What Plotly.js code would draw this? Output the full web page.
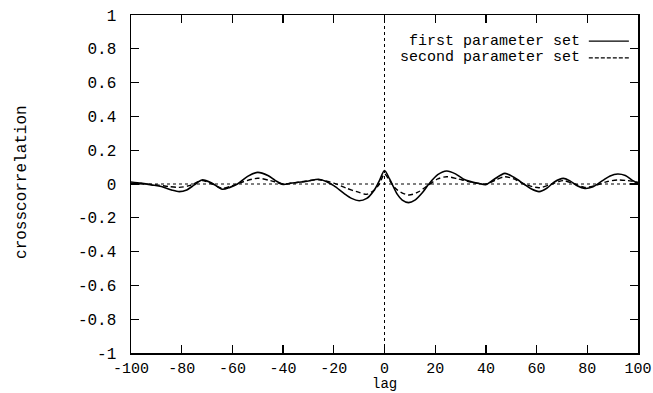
<!DOCTYPE html>
<html>
<head>
<meta charset="utf-8">
<script src="https://cdn.plot.ly/plotly-3.0.1.min.js"></script>
<style>html,body{margin:0;padding:0;background:#fff;}#chart{width:653px;height:393px;}</style>
</head>
<body>
<div id="chart"></div>
<script>
// Lag values and crosscorrelation estimates
const lagFirst = [-100,-96,-92,-88,-84,-81,-78,-75,-72,-68,-64,-61,-58,-54,-50,-46,-43,-40,-37,-34,-30,-26,-23,-20,-16,-13,-10,-7,-4,-2,0,2,5,7,9.5,12,15,17.5,21,24.5,28,31,34,37,40,43,47.5,51,55,58,61,64,67,70.5,73,76,79,82,86,89,92,95,98,100];
const valFirst = [0.012,0.005,-0.005,-0.015,-0.035,-0.045,-0.035,-0.005,0.024,0.005,-0.031,-0.02,0.0,0.045,0.069,0.05,0.02,-0.002,0.005,0.01,0.018,0.028,0.015,-0.01,-0.055,-0.085,-0.099,-0.085,-0.035,0.02,0.08,0.03,-0.06,-0.095,-0.11,-0.095,-0.05,0.0,0.055,0.077,0.06,0.03,0.014,0.004,-0.004,0.025,0.063,0.04,0.0,-0.03,-0.045,-0.025,0.012,0.033,0.02,-0.01,-0.026,-0.018,0.02,0.048,0.059,0.05,0.02,0.003];

const lagSecond = [-100,-95,-90,-85,-81,-77,-72,-68,-64,-60,-56,-50,-45,-40,-34,-26,-20,-15,-10,-7,-4,-2,0,2,5,9.5,13,17,21,24.5,29,33,40,44,47.5,51,55,61,66,70.5,75,79,84,88,92,96,100];
const valSecond = [0.005,0.0,-0.005,-0.015,-0.02,-0.01,0.02,0.0,-0.025,-0.01,0.012,0.034,0.02,0.0,0.01,0.025,0.005,-0.025,-0.05,-0.061,-0.035,0.0,0.06,0.02,-0.035,-0.065,-0.05,-0.01,0.03,0.043,0.03,0.015,0.0,0.025,0.043,0.03,0.0,-0.022,0.0,0.02,0.0,-0.02,-0.005,0.015,0.024,0.02,0.01];

const seriesNames = ['first parameter set', 'second parameter set'];

const xTickVals = [-100,-80,-60,-40,-20,0,20,40,60,80,100];
const xTickText = ['-100','-80','-60','-40','-20','0','20','40','60','80','100'];
const yTickVals = [-1,-0.8,-0.6,-0.4,-0.2,0,0.2,0.4,0.6,0.8,1];
const yTickText = ['-1','-0.8','-0.6','-0.4','-0.2','0','0.2','0.4','0.6','0.8','1'];

const FONT = 'Liberation Mono, Courier New, monospace';

const traces = [
  {x: lagFirst, y: valFirst, name: seriesNames[0], mode: 'lines',
   line: {color: '#000', width: 1.6, shape: 'spline', smoothing: 0.8}},
  {x: lagSecond, y: valSecond, name: seriesNames[1], mode: 'lines',
   line: {color: '#000', width: 1.4, dash: '5px,3px', shape: 'spline', smoothing: 0.8}}
];

const axisCommon = {
  showline: true, linecolor: '#000', linewidth: 1.5, mirror: 'ticks',
  ticks: 'inside', ticklen: 8, tickwidth: 1.3, tickcolor: '#000',
  showgrid: false, zeroline: false,
  tickfont: {family: FONT, size: 16, color: '#000'}
};

const layout = {
  width: 653, height: 393,
  margin: {l: 131, r: 15, t: 15, b: 40},
  paper_bgcolor: '#fff', plot_bgcolor: '#fff',
  showlegend: false,
  xaxis: Object.assign({}, axisCommon, {range: [-100, 100], tickvals: xTickVals, ticktext: xTickText, ticklabelstandoff: 0,
                                        tickfont: {family: FONT, size: 15, color: '#000'}}),
  yaxis: Object.assign({}, axisCommon, {range: [-1, 1], tickvals: yTickVals, ticktext: yTickText, ticklabelstandoff: 10}),
  shapes: [
    {type: 'line', xref: 'paper', yref: 'y', x0: 0, x1: 1, y0: 0, y1: 0, line: {color: '#000', width: 1, dash: 'dot'}},
    {type: 'line', xref: 'x', yref: 'paper', x0: 0, x1: 0, y0: 0, y1: 1, line: {color: '#000', width: 1, dash: 'dot'}},
    {type: 'line', xref: 'paper', yref: 'paper', x0: 0.903, x1: 0.982, y0: 0.923, y1: 0.923, line: {color: '#000', width: 1.3}},
    {type: 'line', xref: 'paper', yref: 'paper', x0: 0.903, x1: 0.982, y0: 0.873, y1: 0.873, line: {color: '#000', width: 1.3, dash: '4px,2px'}}
  ],
  annotations: [
    {text: seriesNames[0], xref: 'paper', yref: 'paper', x: 0.89, y: 0.923, xanchor: 'right', yanchor: 'middle', showarrow: false, font: {family: FONT, size: 15, color: '#000'}},
    {text: seriesNames[1], xref: 'paper', yref: 'paper', x: 0.89, y: 0.873, xanchor: 'right', yanchor: 'middle', showarrow: false, font: {family: FONT, size: 15, color: '#000'}},
    {text: 'crosscorrelation', xref: 'paper', yref: 'paper', x: -0.215, y: 0.506, xanchor: 'center', yanchor: 'middle', textangle: -90, showarrow: false, font: {family: FONT, size: 16, color: '#000'}},
    {text: 'lag', xref: 'paper', yref: 'paper', x: 0.5, y: -0.1175, xanchor: 'center', yanchor: 'bottom', showarrow: false, borderpad: 0, font: {family: FONT, size: 14, color: '#000'}}
  ]
};

Plotly.newPlot('chart', traces, layout, {displayModeBar: false, staticPlot: true});
</script>
</body>
</html>
